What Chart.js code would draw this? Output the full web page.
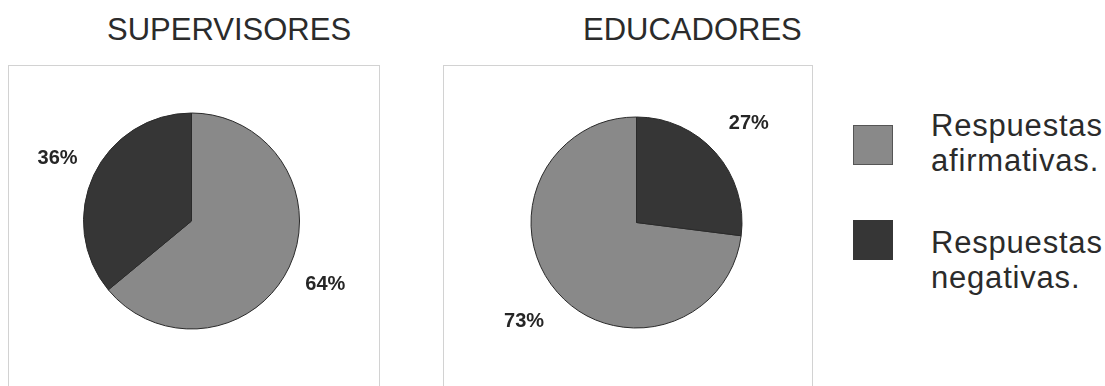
<!DOCTYPE html>
<html lang="es">
<head>
<meta charset="utf-8">
<title>Supervisores y educadores</title>
<script src="https://cdn.jsdelivr.net/npm/chart.js@4.4.1/dist/chart.umd.min.js"></script>
<style>
  html, body { margin: 0; padding: 0; background: #fff; }
  body { width: 1105px; height: 386px; position: relative; overflow: hidden;
         font-family: "Liberation Sans", Arial, sans-serif; color: #2b2b2b; }
  .titulo { position: absolute; font-size: 31px; line-height: 1; white-space: nowrap; }
  .caja { position: absolute; top: 65px; height: 340px; border: 1px solid #d2d2d2; box-sizing: border-box; }
  .caja canvas { position: absolute; left: 0; top: 0; }
  .leyenda { position: absolute; left: 853px; top: 0; }
  .item { position: absolute; left: 0; width: 380px; }
  .cuadro { position: absolute; left: 0; width: 40px; height: 40px; box-sizing: border-box; }
  .texto { position: absolute; left: 78px; font-size: 31px; line-height: 35px; letter-spacing: 0.8px; white-space: nowrap; }
</style>
</head>
<body>

<div class="titulo" id="titulo_sup" style="left:107px; top:14px;"></div>
<div class="titulo" id="titulo_edu" style="left:583px; top:14px;"></div>

<div class="caja" style="left:8px; width:372px;"><canvas id="pie_sup"></canvas></div>
<div class="caja" style="left:443px; width:370px;"><canvas id="pie_edu"></canvas></div>

<div class="leyenda" id="leyenda"></div>

<script>
// Datos
const categorias = ["Respuestas afirmativas.", "Respuestas negativas."];
const grupos = ["SUPERVISORES", "EDUCADORES"];
const supervisores = [64, 36];
const educadores = [73, 27];
const colores = ["#898989", "#363636"];

titulo_sup.innerText = grupos[0];
titulo_edu.innerText = grupos[1];

// Porcentajes por fuera de cada porcion
const etiquetasPorcentaje = {
    id: 'etiquetasPorcentaje',
    afterDatasetsDraw(chart, args, opts) {
        const ctx = chart.ctx;
        const meta = chart.getDatasetMeta(0);
        const valores = chart.data.datasets[0].data;
        ctx.save();
        ctx.font = 'bold 20px "Liberation Sans", Arial, sans-serif';
        ctx.fillStyle = '#262626';
        ctx.textAlign = 'center';
        ctx.textBaseline = 'middle';
        meta.data.forEach((arco, i) => {
            const p = arco.getProps(['x', 'y', 'startAngle', 'endAngle', 'outerRadius'], true);
            const medio = (p.startAngle + p.endAngle) / 2;
            const dist = p.outerRadius * (opts.factor || 1.42);
            ctx.fillText(valores[i] + '%', p.x + Math.cos(medio) * dist, p.y + Math.sin(medio) * dist);
        });
        ctx.restore();
    }
};

// cx, cy: centro de la torta dentro de la caja
function plotarTorta(canvas, datos, ancho, alto, cx, cy, radio, rotacion, factor) {
    canvas.width = ancho;
    canvas.height = alto;
    canvas.style.width = ancho + 'px';
    canvas.style.height = alto + 'px';
    return new Chart(canvas, {
        type: 'pie',
        data: {
            labels: categorias,
            datasets: [{
                data: datos,
                backgroundColor: colores,
                borderColor: '#2a2a2a',
                borderWidth: 1
            }]
        },
        options: {
            responsive: false,
            animation: false,
            rotation: rotacion,
            layout: {
                padding: {
                    left: cx - radio,
                    top: cy - radio,
                    right: ancho - cx - radio,
                    bottom: alto - cy - radio
                }
            },
            plugins: {
                legend: { display: false },
                tooltip: { enabled: false },
                etiquetasPorcentaje: { factor: factor }
            }
        },
        plugins: [etiquetasPorcentaje]
    });
}

plotarTorta(pie_sup, supervisores, 370, 338, 182.5, 155, 108.5, 0, 1.37);
// la porcion negativa arranca arriba, por eso se gira la torta
plotarTorta(pie_edu, educadores, 368, 338, 192.5, 156.5, 106, educadores[1] * 3.6, 1.42);

// Leyenda
const leyenda = document.getElementById('leyenda');
const topes = [108, 225];
categorias.forEach((cat, i) => {
    const partes = cat.split(' ');
    const borde = i == 0 ? '1px solid #555' : 'none';
    leyenda.innerHTML += `
        <div class="item" style="top:${topes[i]}px">
            <div class="cuadro" style="top:${i == 0 ? 17 : -5}px; background:${colores[i]}; border:${borde}"></div>
            <div class="texto">${partes[0]}<br>${partes[1]}</div>
        </div>`;
});
</script>
</body>
</html>
